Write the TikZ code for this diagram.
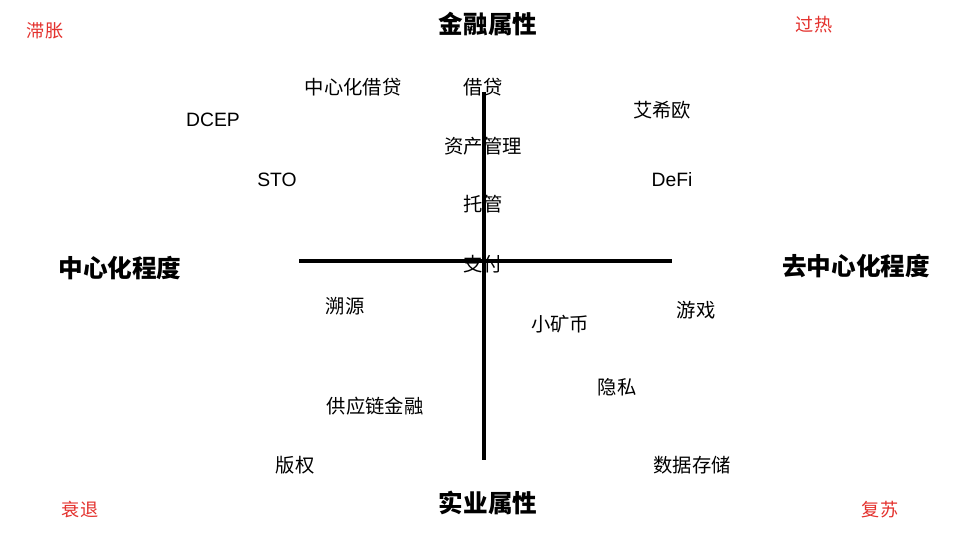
\documentclass[tikz,border=0pt]{standalone}
\usepackage{fontspec}
\setmainfont{Noto Sans CJK SC}
\newfontfamily\latinfont{Liberation Sans}
\begin{document}
\begin{tikzpicture}[x=0.03cm, y=-0.03cm]
\tikzset{lab/.style={inner sep=0pt, font=\fontsize{16.5}{18}\selectfont},
  latin/.style={lab, font=\fontsize{16.5}{18}\selectfont\latinfont},
  axe/.style={inner sep=0pt, font=\fontsize{21}{24}\selectfont\bfseries},
  phase/.style={inner sep=0pt, text={rgb,255:red,228;green,50;blue,46}, font=\fontsize{15.5}{18}\selectfont},
  trait/.style={line width=3.2pt*0.03/0.0353}}
\useasboundingbox[fill=white] (0,0) rectangle (960,539);
% axes
\node[axe] (fin) at (488, 24) {金融属性};
\node[axe] (ind) at (488, 503) {实业属性};
\node[axe] (cen) at (120, 268) {中心化程度};
\node[axe] (dec) at (856, 266) {去中心化程度};
% phases
\node[phase] (zz) at (45, 31) {滞胀};
\node[phase] (gr) at (814, 25) {过热};
\node[phase] (st) at (80, 510) {衰退};
\node[phase] (fs) at (880, 510) {复苏};
% applications
\node[lab] (zxjd) at (353, 87) {中心化借贷};
\node[lab] (jd) at (483, 87) {借贷};
\node[latin] (dcep) at (213, 120) {DCEP};
\node[lab] (axo) at (662, 110) {艾希欧};
\node[lab] (zcgl) at (483, 146) {资产管理};
\node[latin] (sto) at (277, 180) {STO};
\node[latin] (defi) at (672, 180) {DeFi};
\node[lab] (tg) at (483, 204) {托管};
\node[lab] (zf) at (483, 264) {支付};
\node[lab] (sy) at (345, 306) {溯源};
\node[lab] (yx) at (696, 310) {游戏};
\node[lab] (xkb) at (560, 324) {小矿币};
\node[lab] (ys) at (617, 387) {隐私};
\node[lab] (gyl) at (375, 406) {供应链金融};
\node[lab] (bq) at (295, 465) {版权};
\node[lab] (sjcc) at (692, 465) {数据存储};
\coordinate (haut) at (484, 92);
\coordinate (bas) at (484, 460);
\coordinate (gauche) at (299, 261);
\coordinate (droite) at (672, 261);
\draw[trait] (haut) -- (bas);
\draw[trait] (gauche) -- (droite);
\end{tikzpicture}
\end{document}
